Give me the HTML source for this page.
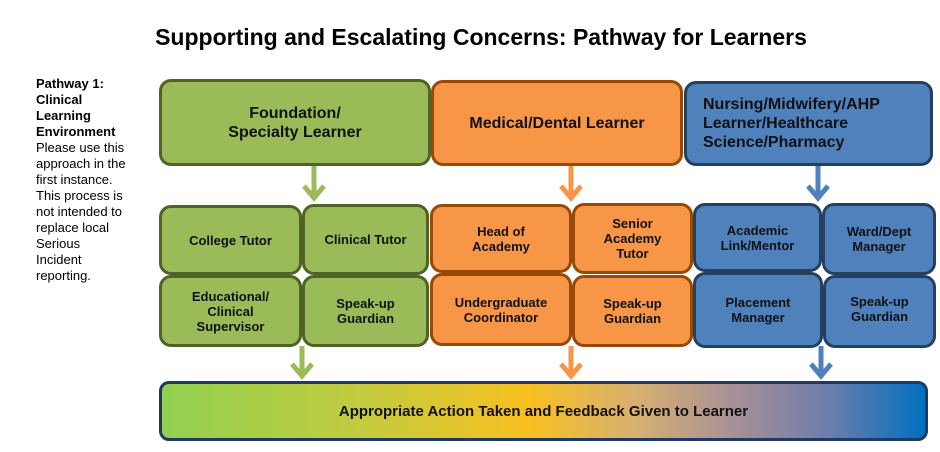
<!DOCTYPE html>
<html><head><style>
body{margin:0;width:940px;height:452px;background:#fff;position:relative;font-family:"Liberation Sans",Arial,sans-serif;overflow:hidden}
.b{position:absolute;box-sizing:border-box;border:3px solid;border-radius:12px;display:flex;align-items:center;justify-content:center;text-align:center;font-weight:bold;color:#111;font-size:13px;line-height:15px}
.g{background:#9bbb59;border-color:#4f6228}
.o{background:#f79646;border-color:#984807}
.u{background:#4f81bd;border-color:#244061}
.t{font-size:16px;line-height:19px}
</style></head><body>
<div style="position:absolute;left:0;width:962px;top:24px;text-align:center;font-weight:bold;font-size:23px">Supporting and Escalating Concerns: Pathway for Learners</div>
<div style="position:absolute;left:36px;top:76px;width:110px;font-size:13px;line-height:16px"><b>Pathway 1:<br>Clinical<br>Learning<br>Environment</b><br>Please use this<br>approach in the<br>first instance.<br>This process is<br>not intended to<br>replace local<br>Serious<br>Incident<br>reporting.</div>
<svg style="position:absolute;left:0;top:0" width="940" height="452">
<g stroke-width="5" fill="none" stroke-linejoin="miter">
<path d="M314 165V198M304 186L314 198L324 186" stroke="#9bbb59"/>
<path d="M302 346V376M292 364L302 376L312 364" stroke="#9bbb59"/>
<path d="M571 165V198M561 186L571 198L581 186" stroke="#f79646"/>
<path d="M571 346V376M561 364L571 376L581 364" stroke="#f79646"/>
<path d="M818 165V198M808 186L818 198L828 186" stroke="#4f81bd"/>
<path d="M821 346V376M811 364L821 376L831 364" stroke="#4f81bd"/>
</g></svg>
<div class="b g t" style="left:159px;top:79px;width:272px;height:87px">Foundation/<br>Specialty Learner</div>
<div class="b o t" style="left:431px;top:80px;width:252px;height:86px">Medical/Dental Learner</div>
<div class="b u t" style="left:684px;top:81px;width:249px;height:85px;justify-content:flex-start;text-align:left;padding-left:16px">Nursing/Midwifery/AHP<br>Learner/Healthcare<br>Science/Pharmacy</div>
<div class="b g" style="left:159px;top:205px;width:143px;height:70px">College Tutor</div>
<div class="b g" style="left:302px;top:204px;width:127px;height:71px">Clinical Tutor</div>
<div class="b g" style="left:159px;top:275px;width:143px;height:72px">Educational/<br>Clinical<br>Supervisor</div>
<div class="b g" style="left:302px;top:275px;width:127px;height:72px">Speak-up<br>Guardian</div>
<div class="b o" style="left:430px;top:204px;width:142px;height:69px">Head of<br>Academy</div>
<div class="b o" style="left:572px;top:203px;width:121px;height:71px">Senior<br>Academy<br>Tutor</div>
<div class="b o" style="left:430px;top:273px;width:142px;height:73px">Undergraduate<br>Coordinator</div>
<div class="b o" style="left:572px;top:275px;width:121px;height:72px">Speak-up<br>Guardian</div>
<div class="b u" style="left:693px;top:203px;width:129px;height:69px">Academic<br>Link/Mentor</div>
<div class="b u" style="left:822px;top:203px;width:114px;height:72px">Ward/Dept<br>Manager</div>
<div class="b u" style="left:693px;top:272px;width:130px;height:76px">Placement<br>Manager</div>
<div class="b u" style="left:823px;top:275px;width:113px;height:73px;padding-bottom:6px">Speak-up<br>Guardian</div>
<div class="b" style="left:159px;top:381px;width:769px;height:60px;border-color:#1f3864;border-radius:10px;font-size:15px;background:linear-gradient(90deg,#92d050 0%,#c0cc40 25%,#f8c020 48%,#d8b070 62%,#a89098 75%,#6f7eaa 87%,#0070c0 100%)">Appropriate Action Taken and Feedback Given to Learner</div>
</body></html>
